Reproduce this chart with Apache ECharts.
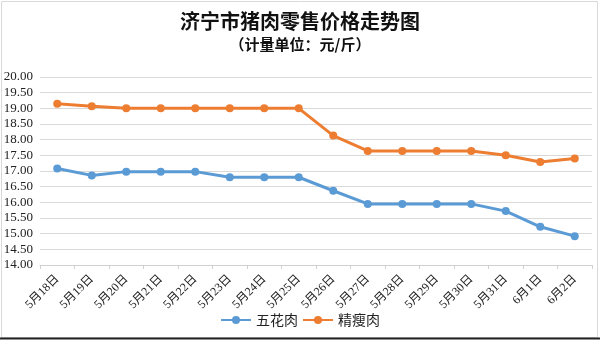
<!DOCTYPE html>
<html>
<head>
<meta charset="utf-8">
<script src="https://cdn.jsdelivr.net/npm/echarts@6/dist/echarts.min.js"></script>
<style>
  html, body { margin: 0; padding: 0; background: #fff; }
  #chart { width: 600px; height: 340px; }
</style>
</head>
<body>
<div id="chart"></div>
<script>
// 济宁市猪肉零售价格（元/斤）
const dates = ['5月18日', '5月19日', '5月20日', '5月21日', '5月22日', '5月23日', '5月24日', '5月25日',
  '5月26日', '5月27日', '5月28日', '5月29日', '5月30日', '5月31日', '6月1日', '6月2日'];
const wuhuarou = [17.08, 16.86, 16.98, 16.98, 16.98, 16.80, 16.80, 16.80,
  16.37, 15.95, 15.95, 15.95, 15.95, 15.72, 15.22, 14.92];
const jingshourou = [19.15, 19.07, 19.00, 19.00, 19.00, 19.00, 19.00, 19.00,
  18.13, 17.64, 17.64, 17.64, 17.64, 17.50, 17.29, 17.40];
const yTicks = { min: 14, max: 20, step: 0.5 };

const serifFont = '"Liberation Serif", "Times New Roman", "Noto Sans CJK SC", serif';
const cjkFont = '"Noto Sans CJK SC", sans-serif';

const chart = echarts.init(document.getElementById('chart'), null, { renderer: 'canvas' });

function lineSeries(name, data, color) {
  return {
    name: name,
    type: 'line',
    data: data,
    symbol: 'circle',
    symbolSize: 8,
    lineStyle: { width: 3, color: color },
    itemStyle: { color: color },
    emphasis: { disabled: true },
    animation: false
  };
}

chart.setOption({
  backgroundColor: '#ffffff',
  animation: false,
  title: [
    {
      text: '济宁市猪肉零售价格走势图',
      left: 'center',
      top: 6,
      textStyle: { fontFamily: cjkFont, fontSize: 20, fontWeight: 'bold', color: '#111' }
    },
    {
      text: '（计量单位：元/斤）',
      left: 'center',
      top: 32,
      textStyle: { fontFamily: cjkFont, fontSize: 15, fontWeight: 'bold', color: '#111' }
    }
  ],
  graphic: [
    {
      type: 'rect',
      shape: { x: 1.5, y: 1.5, width: 596, height: 336 },
      style: { fill: 'none', stroke: '#d9d9d9', lineWidth: 1 },
      silent: true
    },
    {
      type: 'line',
      shape: { x1: 0, y1: 338.5, x2: 600, y2: 338.5 },
      style: { stroke: '#222', lineWidth: 2 },
      silent: true
    }
  ],
  legend: {
    bottom: 8,
    left: 'center',
    itemWidth: 30,
    itemHeight: 10,
    itemGap: 4,
    textStyle: { fontFamily: cjkFont, fontSize: 14, color: '#222' },
    data: ['五花肉', '精瘦肉']
  },
  grid: { left: 40, right: 8, top: 77, bottom: 75, containLabel: false },
  xAxis: {
    type: 'category',
    data: dates,
    boundaryGap: true,
    axisLine: { lineStyle: { color: '#d0d0d0', width: 1 } },
    axisTick: { show: true, length: 4, alignWithLabel: false, lineStyle: { color: '#d0d0d0' } },
    axisLabel: {
      interval: 0,
      rotate: 45,
      margin: 12,
      fontFamily: serifFont,
      fontSize: 12,
      color: '#222'
    }
  },
  yAxis: {
    type: 'value',
    min: yTicks.min,
    max: yTicks.max,
    interval: yTicks.step,
    axisLine: { show: false },
    axisTick: { show: false },
    splitLine: { lineStyle: { color: '#d9d9d9', width: 1 } },
    axisLabel: {
      margin: 7,
      fontFamily: serifFont,
      fontSize: 13,
      color: '#222',
      formatter: v => v.toFixed(2)
    }
  },
  series: [
    lineSeries('五花肉', wuhuarou, '#5b9bd5'),
    lineSeries('精瘦肉', jingshourou, '#ed7d31')
  ]
});
</script>
</body>
</html>
